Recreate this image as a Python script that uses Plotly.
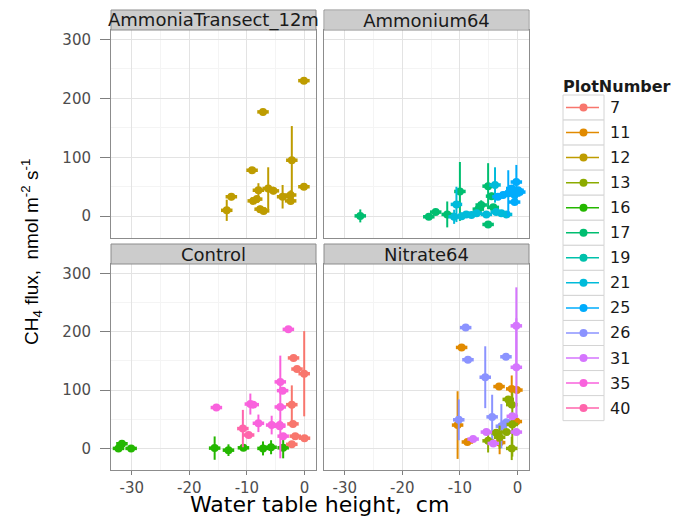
import plotly.graph_objects as go

# ---------------- data ----------------
PANELS = ["AmmoniaTransect_12m", "Ammonium64", "Control", "Nitrate64"]
LEVELS = ["7", "11", "12", "13", "16", "17", "19", "21", "25", "26", "31", "35", "40"]
COLORS = ["#F8766D", "#E18A00", "#BE9C00", "#8CAB00", "#24B700", "#00BE70", "#00C1AB",
          "#00BBDA", "#00ACFC", "#8B93FF", "#D575FE", "#F962DD", "#FF65AC"]

X_TICKS = [-30, -20, -10, 0]
X_TICK_TEXT = ["-30", "-20", "-10", "0"]
X_MINOR = [-25, -15, -5]
Y_TICKS = [0, 100, 200, 300]
Y_TICK_TEXT = ["0", "100", "200", "300"]
Y_MINOR = [50, 150, 250]
X_RANGE = [-33.6, 2.0]
Y_RANGE = [-37, 316]

# AmmoniaTransect_12m
AT_P12_X = [-0.1, -7.2, -2.2, -9.1, -0.1, -12.7, -13.5, -8.0, -6.3, -5.4, -8.9, -8.3, -7.7, -7.1, -3.8, -2.4, -2.4]
AT_P12_Y = [230, 177, 95, 78, 50, 33, 10, 44, 47, 43, 26, 29, 12, 9, 33, 36, 26]
AT_P12_E = [4, 4, 58, 4, 5, 6, 18, 12, 36, 6, 5, 5, 6, 5, 20, 8, 5]

# Ammonium64
AM_P17_X = [-27.3, -15.4, -14.2, -12.2, -10.0, -6.3, -6.8, -5.1, -4.5, -5.1, -4.2]
AM_P17_Y = [0.5, -1, 7, 3, 42, 19, 12, 51, 34, -14, 15]
AM_P17_E = [11, 4, 4, 22, 50, 8, 5, 39, 6, 4, 5]
AM_P21_X = [-10.6, -11.0, -9.7, -8.9, -8.0, -7.1, -3.9, -3.7, -2.8, -1.9, -5.4]
AM_P21_Y = [20, -1, 0, 3, 2, 5, 53, 7, 5, 3, 3]
AM_P21_E = [30, 12, 4, 4, 4, 5, 30, 5, 5, 4, 4]
AM_P25_X = [-0.2, 0.1, -0.5, -0.5, -1.6, -2.5, -3.4, 0.4, -1.0]
AM_P25_Y = [58, 44, 36, 24, 39, 36, 33, 41, 47]
AM_P25_E = [29, 5, 5, 5, 39, 5, 5, 5, 6]

# Control
CO_P7_X = [-1.9, -1.3, -0.05, -2.2, -2.0, -1.6, 0.0, -2.2]
CO_P7_Y = [155, 136, 128, 75, 42, 21, 17.5, 7]
CO_P7_E = [4, 5, 73, 33, 5, 5, 5, 5]
CO_P16_X = [-32.3, -31.7, -30.1, -15.6, -13.2, -10.6, -7.2, -5.8, -3.7]
CO_P16_Y = [0, 8, 0, 0.5, -3, 1, 0, 2, 1]
CO_P16_E = [4, 6, 4, 20, 10, 4, 12, 12, 18]
CO_P35_X = [-2.8, -4.2, -3.8, -4.2, -4.3, -3.7, -9.4, -8.9, -8.0, -5.7, -4.3, -15.3]
CO_P35_Y = [204, 114, 99, 71, 38, 21, 76, 75, 43, 40, 40, 70]
CO_P35_E = [4, 5, 5, 88, 5, 5, 18, 5, 15, 16, 8, 4]
CO_P40_X = [-10.7, -9.7]
CO_P40_Y = [34, 23]
CO_P40_E = [32, 5]

# Nitrate64
NI_P11_X = [-9.7, -3.2, -1.0, -0.1, -10.4, -8.7, -3.1, -0.2]
NI_P11_Y = [173, 106, 102, 100, 40, 11, 10, 46]
NI_P11_E = [4, 5, 23, 5, 58, 5, 20, 5]
NI_P13_X = [-1.6, -1.0, -0.9, -3.7, -1.9, -5.1, -3.1, -1.0]
NI_P13_Y = [84, 75, 41, 27, 28, 13, 19, 0]
NI_P13_E = [5, 5, 55, 5, 5, 20, 20, 20]
NI_P26_X = [-9.0, -8.6, -5.6, -2.0, -10.2, -4.4, -2.8, -1.9]
NI_P26_Y = [207, 152, 122, 157, 49, 54, 38, 45]
NI_P26_E = [4, 5, 53, 5, 35, 38, 38, 5]
NI_P31_X = [-0.2, -0.2, -0.9, -0.2, -5.4, -7.7, -4.2]
NI_P31_Y = [210, 139, 55, 28, 28, 16, 8.5]
NI_P31_E = [66, 84, 5, 5, 5, 5, 5]

SERIES = [
    (0, "12", AT_P12_X, AT_P12_Y, AT_P12_E),
    (1, "17", AM_P17_X, AM_P17_Y, AM_P17_E),
    (1, "21", AM_P21_X, AM_P21_Y, AM_P21_E),
    (1, "25", AM_P25_X, AM_P25_Y, AM_P25_E),
    (2, "16", CO_P16_X, CO_P16_Y, CO_P16_E),
    (2, "40", CO_P40_X, CO_P40_Y, CO_P40_E),
    (2, "35", CO_P35_X, CO_P35_Y, CO_P35_E),
    (2, "7", CO_P7_X, CO_P7_Y, CO_P7_E),
    (3, "11", NI_P11_X, NI_P11_Y, NI_P11_E),
    (3, "26", NI_P26_X, NI_P26_Y, NI_P26_E),
    (3, "13", NI_P13_X, NI_P13_Y, NI_P13_E),
    (3, "31", NI_P31_X, NI_P31_Y, NI_P31_E),
]

# ---------------- layout geometry (pixels) ----------------
W, H = 684, 518
BOXES = [(111, 316, 30, 238), (324, 529, 30, 238), (111, 316, 264, 470), (324, 529, 264, 470)]
STRIP_H = 20
GRID = "#E3E3E3"
MINOR_GRID = "#F4F4F4"
BORDER = "#8C8C8C"
STRIP_FILL = "#CCCCCC"
TICK_FONT = dict(family="DejaVu Sans", size=15, color="#4D4D4D")


def fx(p):
    return p / W


def fy(p):
    return 1 - p / H


color_of = dict(zip(LEVELS, COLORS))
fig = go.Figure()

for panel_idx, level, xs, ys, es in SERIES:
    sfx = "" if panel_idx == 0 else str(panel_idx + 1)
    c = color_of[level]
    fig.add_trace(go.Scatter(
        x=xs, y=ys, xaxis="x" + sfx, yaxis="y" + sfx, mode="markers",
        marker=dict(color=c, size=8, line=dict(width=0)),
        error_y=dict(type="data", array=es, visible=True, thickness=2, width=0, color=c),
        error_x=dict(type="constant", value=1.0, visible=True, thickness=3.5, width=0, color=c),
        showlegend=False, hoverinfo="skip", name=level,
    ))

layout = dict(
    width=W, height=H, margin=dict(l=0, r=0, t=0, b=0),
    paper_bgcolor="white", plot_bgcolor="rgba(0,0,0,0)", showlegend=False,
    font=dict(family="DejaVu Sans", color="#1A1A1A"),
)

shapes = []
annotations = []
for k, (x0, x1, y0, y1) in enumerate(BOXES):
    sfx = "" if k == 0 else str(k + 1)
    bottom = k >= 2
    left = k % 2 == 0
    layout["xaxis" + sfx] = dict(
        domain=[fx(x0), fx(x1)], range=X_RANGE, anchor="y" + sfx,
        tickmode="array", tickvals=X_TICKS, ticktext=X_TICK_TEXT,
        showticklabels=bottom, ticks="outside" if bottom else "", ticklen=4,
        ticklabelstandoff=0,
        tickcolor="#7F7F7F", tickfont=TICK_FONT,
        showline=True, mirror=True, linecolor=BORDER, linewidth=1,
        showgrid=True, gridcolor=GRID, gridwidth=1, zeroline=False,
        minor=dict(tickmode="array", tickvals=X_MINOR, showgrid=True, gridcolor=MINOR_GRID, ticks=""),
        fixedrange=True,
    )
    layout["yaxis" + sfx] = dict(
        domain=[fy(y1), fy(y0)], range=Y_RANGE, anchor="x" + sfx,
        tickmode="array", tickvals=Y_TICKS, ticktext=Y_TICK_TEXT,
        showticklabels=left, ticks="outside" if left else "", ticklen=10,
        ticklabelstandoff=6,
        tickcolor="#7F7F7F", tickfont=TICK_FONT,
        showline=True, mirror=True, linecolor=BORDER, linewidth=1,
        showgrid=True, gridcolor=GRID, gridwidth=1, zeroline=False,
        minor=dict(tickmode="array", tickvals=Y_MINOR, showgrid=True, gridcolor=MINOR_GRID, ticks=""),
        fixedrange=True,
    )
    # strip background
    shapes.append(dict(type="rect", xref="paper", yref="paper",
                       x0=fx(x0), x1=fx(x1), y0=fy(y0), y1=fy(y0 - STRIP_H),
                       fillcolor=STRIP_FILL, line=dict(color=BORDER, width=1), layer="above"))
    strip_ann = dict(xref="paper", yref="paper", x=fx((x0 + x1) / 2), y=fy(y0 - STRIP_H / 2),
                     text=PANELS[k], showarrow=False, xanchor="center", yanchor="middle",
                     font=dict(family="DejaVu Sans", size=18, color="#1A1A1A"))
    if k == 1:
        # right strip painted over the overflowing left strip label
        strip_ann.update(bgcolor=STRIP_FILL, width=(x1 - x0) - 2, height=STRIP_H - 2, borderpad=0)
    annotations.append(strip_ann)

# axis titles
annotations.append(dict(xref="paper", yref="paper", x=fx(319), y=0,
                        text="Water table height,  cm", showarrow=False,
                        xanchor="center", yanchor="bottom", borderpad=0,
                        font=dict(family="DejaVu Sans", size=22, color="#000000")))
annotations.append(dict(xref="paper", yref="paper", x=fx(31), y=fy(252),
                        text="CH<sub>4</sub> flux,  nmol m<sup>-2</sup> s<sup>-1</sup>",
                        showarrow=False, textangle=-90, xanchor="center", yanchor="middle",
                        font=dict(family="Liberation Sans", size=19, color="#000000")))

# ---------------- manual legend (axis in pixel units) ----------------
LX0, LX1, LY0, LY1 = 548, 684, 80, 440
layout["xaxis5"] = dict(domain=[fx(LX0), fx(LX1)], range=[LX0, LX1], visible=False,
                        anchor="y5", fixedrange=True)
layout["yaxis5"] = dict(domain=[fy(LY1), fy(LY0)], range=[LY1, LY0], visible=False,
                        anchor="x5", fixedrange=True)
KEY_TOP, KEY_H = 95, 25.05
KEY_X0, KEY_X1 = 563, 604
for i, (lev, col) in enumerate(zip(LEVELS, COLORS)):
    yc = KEY_TOP + KEY_H * (i + 0.5)
    shapes.append(dict(type="rect", xref="x5", yref="y5", x0=KEY_X0, x1=KEY_X1,
                       y0=KEY_TOP + KEY_H * i, y1=KEY_TOP + KEY_H * (i + 1),
                       fillcolor="white", line=dict(color="#D4D4D4", width=1), layer="below"))
    fig.add_trace(go.Scatter(x=[KEY_X0 + 3, KEY_X1 - 5], y=[yc, yc], xaxis="x5", yaxis="y5",
                             mode="lines", line=dict(color=col, width=1.5),
                             showlegend=False, hoverinfo="skip"))
    fig.add_trace(go.Scatter(x=[(KEY_X0 + KEY_X1) / 2], y=[yc], xaxis="x5", yaxis="y5",
                             mode="markers", marker=dict(color=col, size=8),
                             showlegend=False, hoverinfo="skip"))
    annotations.append(dict(xref="x5", yref="y5", x=KEY_X1 + 4, y=yc, text=lev,
                            showarrow=False, xanchor="left", yanchor="middle",
                            font=dict(family="DejaVu Sans", size=16, color="#1A1A1A")))
annotations.append(dict(xref="paper", yref="paper", x=fx(561), y=fy(86), text="<b>PlotNumber</b>",
                        showarrow=False, xanchor="left", yanchor="middle",
                        font=dict(family="DejaVu Sans", size=16, color="#1A1A1A")))

layout["shapes"] = shapes
layout["annotations"] = annotations
fig.update_layout(**layout)
fig.write_html("out.html", config={"displayModeBar": False},
               post_script="document.body.style.margin='0px';")
